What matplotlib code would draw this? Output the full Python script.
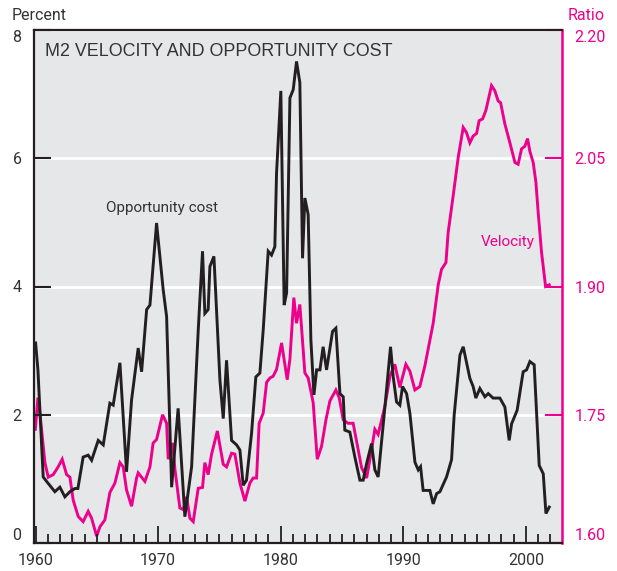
import matplotlib
matplotlib.use("Agg")
import matplotlib.pyplot as plt
from matplotlib import font_manager
from matplotlib.ticker import MultipleLocator, FixedLocator

def pick(names):
    for n in names:
        try:
            font_manager.findfont(font_manager.FontProperties(family=n), fallback_to_default=False)
            return n
        except Exception:
            pass
    return "DejaVu Sans"

NARROW = pick(["Liberation Sans Narrow", "DejaVu Sans Condensed", "Roboto", "Liberation Sans"])
REG = pick(["Liberation Sans", "Arial", "DejaVu Sans"])

# ---------------- data ----------------
opp_years = [1960.00, 1960.19, 1960.62, 1960.90, 1961.57, 1961.98, 1962.39, 1962.80, 1963.21, 1963.45,
             1963.88, 1964.29, 1964.57, 1965.11, 1965.52, 1966.06, 1966.33, 1966.88, 1967.42, 1967.83,
             1968.37, 1968.65, 1969.06, 1969.33, 1969.87, 1970.41, 1970.69, 1971.10, 1971.63, 1972.18,
             1972.73, 1973.27, 1973.62, 1973.81, 1974.08, 1974.22, 1974.55, 1975.04, 1975.31, 1975.58,
             1975.99, 1976.40, 1976.67, 1976.94, 1977.21, 1977.62, 1977.97, 1978.30, 1978.57, 1978.98,
             1979.25, 1979.52, 1979.66, 1980.01, 1980.28, 1980.48, 1980.75, 1981.02, 1981.29, 1981.56,
             1981.78, 1981.97, 1982.24, 1982.46, 1982.71, 1982.93, 1983.20, 1983.46, 1983.74, 1984.23,
             1984.50, 1984.83, 1985.10, 1985.23, 1985.64, 1986.05, 1986.46, 1986.73, 1987.01, 1987.41,
             1987.68, 1987.95, 1988.50, 1988.96, 1989.18, 1989.45, 1989.72, 1989.94, 1990.27, 1990.54,
             1990.95, 1991.22, 1991.41, 1991.62, 1992.17, 1992.44, 1992.72, 1992.99, 1993.53, 1993.94,
             1994.15, 1994.62, 1994.89, 1995.43, 1995.70, 1995.92, 1996.25, 1996.66, 1996.93, 1997.33,
             1997.88, 1998.29, 1998.64, 1998.84, 1999.29, 1999.78, 2000.06, 2000.33, 2000.68, 2001.09,
             2001.42, 2001.64, 2001.91]
opp_cost = [3.12, 2.70, 1.03, 0.96, 0.80, 0.87, 0.72, 0.80, 0.85, 0.85,
            1.34, 1.37, 1.29, 1.60, 1.53, 2.18, 2.15, 2.81, 1.11, 2.23,
            3.04, 2.67, 3.64, 3.71, 4.99, 3.95, 3.53, 0.87, 2.10, 0.41,
            1.19, 3.32, 4.55, 3.58, 3.64, 4.31, 4.47, 2.54, 1.94, 2.85,
            1.60, 1.53, 1.45, 0.90, 0.98, 1.71, 2.59, 2.65, 3.32, 4.55,
            4.49, 4.62, 5.77, 7.05, 3.71, 3.90, 6.94, 7.07, 7.51, 7.18,
            4.44, 5.38, 5.12, 3.17, 2.31, 2.70, 2.70, 3.06, 2.70, 3.30,
            3.35, 2.33, 2.28, 1.76, 1.73, 1.34, 0.98, 0.98, 1.24, 1.55,
            1.14, 1.03, 2.12, 3.06, 2.59, 2.20, 2.15, 2.44, 2.33, 2.02,
            1.26, 1.14, 1.19, 0.82, 0.82, 0.61, 0.77, 0.80, 1.03, 1.30,
            1.99, 2.93, 3.06, 2.57, 2.44, 2.26, 2.41, 2.28, 2.33, 2.26,
            2.26, 2.12, 1.60, 1.86, 2.07, 2.67, 2.70, 2.83, 2.78, 1.21,
            1.08, 0.46, 0.56]

vel_years = [1959.98, 1960.19, 1960.35, 1960.76, 1961.03, 1961.44, 1961.84, 1962.17, 1962.53, 1962.80,
             1963.07, 1963.48, 1963.88, 1964.29, 1964.57, 1964.98, 1965.25, 1965.65, 1966.06, 1966.47,
             1966.88, 1967.15, 1967.42, 1967.83, 1968.24, 1968.37, 1968.92, 1969.33, 1969.59, 1969.87,
             1970.36, 1970.69, 1970.82, 1971.18, 1971.37, 1971.77, 1972.04, 1972.32, 1972.59, 1972.86,
             1973.27, 1973.62, 1973.81, 1974.08, 1974.36, 1974.83, 1975.31, 1975.58, 1975.99, 1976.26,
             1976.67, 1977.08, 1977.48, 1977.75, 1978.03, 1978.24, 1978.57, 1978.85, 1979.12, 1979.38,
             1979.66, 1980.07, 1980.53, 1980.75, 1981.07, 1981.29, 1981.56, 1981.97, 1982.24, 1982.65,
             1982.98, 1983.33, 1983.69, 1984.01, 1984.50, 1984.77, 1985.10, 1985.50, 1985.91, 1986.19,
             1986.60, 1987.01, 1987.41, 1987.68, 1987.95, 1988.50, 1988.91, 1989.31, 1989.72, 1990.21,
             1990.54, 1990.95, 1991.35, 1991.76, 1992.03, 1992.44, 1992.85, 1993.12, 1993.48, 1993.66,
             1994.07, 1994.48, 1994.89, 1995.16, 1995.43, 1995.70, 1995.98, 1996.19, 1996.47, 1996.74,
             1997.20, 1997.47, 1997.74, 1997.94, 1998.29, 1998.70, 1999.11, 1999.37, 1999.65, 1999.92,
             2000.14, 2000.33, 2000.60, 2000.82, 2001.01, 2001.28, 2001.61, 2001.91]
velocity = [1.733, 1.770, 1.752, 1.694, 1.677, 1.680, 1.689, 1.698, 1.680, 1.677,
            1.650, 1.631, 1.625, 1.637, 1.629, 1.608, 1.619, 1.627, 1.659, 1.670,
            1.694, 1.689, 1.662, 1.643, 1.676, 1.682, 1.672, 1.689, 1.717, 1.721,
            1.750, 1.740, 1.698, 1.717, 1.686, 1.641, 1.639, 1.654, 1.629, 1.625,
            1.664, 1.665, 1.694, 1.680, 1.704, 1.731, 1.692, 1.689, 1.705, 1.704,
            1.670, 1.649, 1.670, 1.676, 1.676, 1.740, 1.752, 1.788, 1.793, 1.795,
            1.803, 1.834, 1.791, 1.815, 1.887, 1.857, 1.879, 1.799, 1.793, 1.764,
            1.698, 1.713, 1.744, 1.766, 1.779, 1.770, 1.744, 1.740, 1.740, 1.719,
            1.688, 1.676, 1.709, 1.733, 1.727, 1.760, 1.795, 1.809, 1.782, 1.809,
            1.801, 1.779, 1.783, 1.807, 1.827, 1.857, 1.902, 1.920, 1.928, 1.963,
            2.006, 2.051, 2.086, 2.080, 2.068, 2.076, 2.079, 2.094, 2.096, 2.106,
            2.135, 2.129, 2.117, 2.115, 2.090, 2.068, 2.045, 2.043, 2.061, 2.064,
            2.073, 2.058, 2.045, 2.022, 1.986, 1.940, 1.900, 1.902]

left_ticks = [0, 2, 4, 6, 8]
right_ticks = [1.60, 1.75, 1.90, 2.05, 2.20]
right_labels = ["1.60", "1.75", "1.90", "2.05", "2.20"]
year_ticks = [1960, 1970, 1980, 1990, 2000]

BLACK = "#231F20"
PINK = "#EC008C"
BG = "#E6E7E8"
TXT = "#333333"

fig = plt.figure(figsize=(6.17, 5.71), dpi=100)
# back axes (velocity, right scale) carries background and grid
ax2 = fig.add_axes([34/617, 1 - 543/571, (562-34)/617, (543-30)/571])
ax = fig.add_axes(ax2.get_position(), sharex=ax2)
ax.set_zorder(ax2.get_zorder() + 1)
ax.patch.set_visible(False)

ax2.set_facecolor(BG)
ax2.set_xlim(1959.87, 2002.95)
ax2.set_ylim(1.60, 2.20)
ax.set_ylim(0, 8)

# grid (coincides on both scales)
ax2.yaxis.set_major_locator(FixedLocator(right_ticks))
ax2.grid(axis="y", color="white", linewidth=2.0, zorder=0)
ax2.set_axisbelow(True)

ax2.plot(vel_years, velocity, color=PINK, linewidth=2.1, solid_joinstyle="miter", zorder=3)
ax.plot(opp_years, opp_cost, color=BLACK, linewidth=2.1, solid_joinstyle="miter", zorder=3)

# ticks
ax.xaxis.set_major_locator(FixedLocator(year_ticks))
ax.xaxis.set_minor_locator(MultipleLocator(1))
ax.set_xticklabels([str(y) for y in year_ticks])
ax.tick_params(axis="x", which="major", direction="in", length=12, width=1.3, color=BLACK,
               labelsize=11.5, labelcolor=TXT, pad=7)
ax.tick_params(axis="x", which="minor", direction="in", length=6.5, width=1.3, color=BLACK)
ax2.tick_params(axis="x", which="both", bottom=False, labelbottom=False)

ax.yaxis.set_major_locator(FixedLocator(left_ticks))
ax.set_yticklabels([str(v) for v in left_ticks])
ax.tick_params(axis="y", which="major", direction="in", length=12, width=1.5, color=BLACK,
               labelsize=11.5, labelcolor=TXT, pad=9, left=True, right=False)
ax2.yaxis.tick_right()
ax2.set_yticks(right_ticks)
ax2.set_yticklabels(right_labels)
ax2.tick_params(axis="y", which="major", direction="in", length=12, width=1.5, color=PINK,
                labelsize=11.5, labelcolor=PINK, pad=9)

for lab in ax.get_xticklabels() + ax.get_yticklabels() + ax2.get_yticklabels():
    lab.set_fontfamily(NARROW)
# end labels sit inside the frame like the reference
for labs in (ax.get_yticklabels(), ax2.get_yticklabels()):
    labs[0].set_verticalalignment("bottom")
    labs[-1].set_verticalalignment("top")

# spines
for name in ["left", "top", "bottom"]:
    ax.spines[name].set_color(BLACK)
    ax.spines[name].set_linewidth(1.6)
    ax2.spines[name].set_visible(False)
ax.spines["right"].set_visible(False)
ax2.spines["right"].set_color(PINK)
ax2.spines["right"].set_linewidth(1.8)

# texts
ax.text(0.021, 0.975, "M2 VELOCITY AND OPPORTUNITY COST", transform=ax.transAxes,
        ha="left", va="top", fontsize=12.9, color=TXT, fontfamily=REG)
ax.text(1970.35, 5.22, "Opportunity cost", ha="center", va="center", fontsize=11,
        color=TXT, fontfamily=NARROW)
ax2.text(1998.55, 1.952, "Velocity", ha="center", va="center", fontsize=11,
         color=PINK, fontfamily=NARROW)
fig.text(12/617, 1 - 15/571, "Percent", ha="left", va="center", fontsize=11.5,
         color=TXT, fontfamily=NARROW)
fig.text(605/617, 1 - 15/571, "Ratio", ha="right", va="center", fontsize=11.5,
         color=PINK, fontfamily=NARROW)

fig.savefig("out.png", dpi=100, facecolor="white")
